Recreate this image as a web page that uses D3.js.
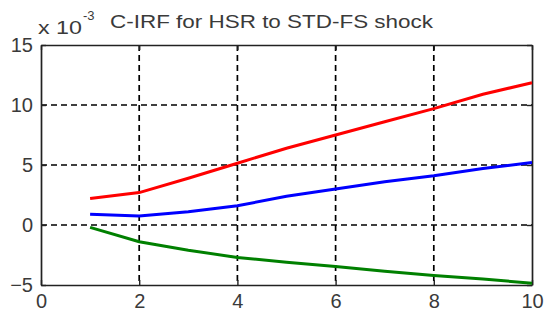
<!DOCTYPE html>
<html>
<head>
<meta charset="utf-8">
<script src="https://d3js.org/d3.v7.min.js"></script>
<style>
  body { margin: 0; background: #fff; }
  text { font-family: "Liberation Sans", Arial, sans-serif; fill: #3a3a3a; }
</style>
</head>
<body>
<script>
  // horizon (periods)
  const periods = [1, 2, 3, 4, 5, 6, 7, 8, 9, 10]
  // responses, in units of 1e-3
  const upper = [2.2, 2.7, 3.9, 5.15, 6.4, 7.5, 8.6, 9.7, 10.9, 11.85]
  const median = [0.9, 0.75, 1.1, 1.6, 2.4, 3.0, 3.6, 4.1, 4.7, 5.2]
  const lower = [-0.2, -1.4, -2.1, -2.7, -3.1, -3.45, -3.85, -4.2, -4.5, -4.85]
  const xTicks = [0, 2, 4, 6, 8, 10]
  const yTicks = [-5, 0, 5, 10, 15]

  const width = 546, height = 316
  const margin = { left: 41, right: 14, top: 45, bottom: 31 }

  const svg = d3.select('body').append('svg')
    .attr('width', width)
    .attr('height', height)

  const x = d3.scaleLinear().domain([0, 10]).range([margin.left, width - margin.right])
  const y = d3.scaleLinear().domain([-5, 15]).range([height - margin.bottom, margin.top])

  // grid
  const grid = svg.append('g')
    .attr('stroke', '#000')
    .attr('stroke-width', 1.7)
    .attr('stroke-dasharray', '6,4')
  grid.selectAll('.gx')
    .data(xTicks.slice(1, -1))
    .enter()
    .append('line')
    .attr('x1', d => x(d)).attr('x2', d => x(d))
    .attr('y1', y(15)).attr('y2', y(-5))
  grid.selectAll('.gy')
    .data(yTicks.slice(1, -1))
    .enter()
    .append('line')
    .attr('y1', d => y(d)).attr('y2', d => y(d))
    .attr('x1', x(0)).attr('x2', x(10))

  // axes with inward ticks
  const axB = svg.append('g')
    .attr('transform', `translate(0,${y(-5)})`)
    .call(d3.axisBottom(x).tickValues(xTicks).tickSize(-5).tickPadding(9).tickSizeOuter(0))
  const axL = svg.append('g')
    .attr('transform', `translate(${x(0)},0)`)
    .call(d3.axisLeft(y).tickValues(yTicks).tickSize(-5).tickPadding(8).tickSizeOuter(0))
  const axT = svg.append('g')
    .attr('transform', `translate(0,${y(15)})`)
    .call(d3.axisTop(x).tickValues(xTicks).tickSize(-5).tickFormat('').tickSizeOuter(0))
  const axR = svg.append('g')
    .attr('transform', `translate(${x(10)},0)`)
    .call(d3.axisRight(y).tickValues(yTicks).tickSize(-5).tickFormat('').tickSizeOuter(0))

  ;[axB, axL, axT, axR].forEach(a => {
    a.select('.domain').attr('stroke', '#222').attr('stroke-width', 1.7)
    a.selectAll('.tick line').attr('stroke', '#222').attr('stroke-width', 1.4)
    a.selectAll('text')
      .attr('font-size', '20px')
      .attr('fill', '#404040')
      .style('font-family', '"Liberation Sans", Arial, sans-serif')
  })
  axB.selectAll('text').attr('dy', '0.71em')

  // lines
  const line = d3.line()
    .x((d, i) => x(periods[i]))
    .y(d => y(d))

  const series = [
    { values: upper, color: '#ff0000' },
    { values: median, color: '#0000ff' },
    { values: lower, color: '#008000' }
  ]
  svg.selectAll('.series')
    .data(series)
    .enter()
    .append('path')
    .attr('d', d => line(d.values))
    .attr('fill', 'none')
    .attr('stroke', d => d.color)
    .attr('stroke-width', 3)

  // exponent label and title
  svg.append('text')
    .attr('x', 38)
    .attr('y', 34)
    .attr('font-size', '19px')
    .attr('textLength', 44)
    .attr('lengthAdjust', 'spacingAndGlyphs')
    .text('x 10')
  svg.append('text')
    .attr('x', 83)
    .attr('y', 20)
    .attr('font-size', '13px')
    .text('-3')

  svg.append('text')
    .attr('x', 110)
    .attr('y', 27.5)
    .attr('font-size', '18.5px')
    .attr('textLength', 323)
    .attr('lengthAdjust', 'spacingAndGlyphs')
    .text('C-IRF for HSR to STD-FS shock')
</script>
</body>
</html>
